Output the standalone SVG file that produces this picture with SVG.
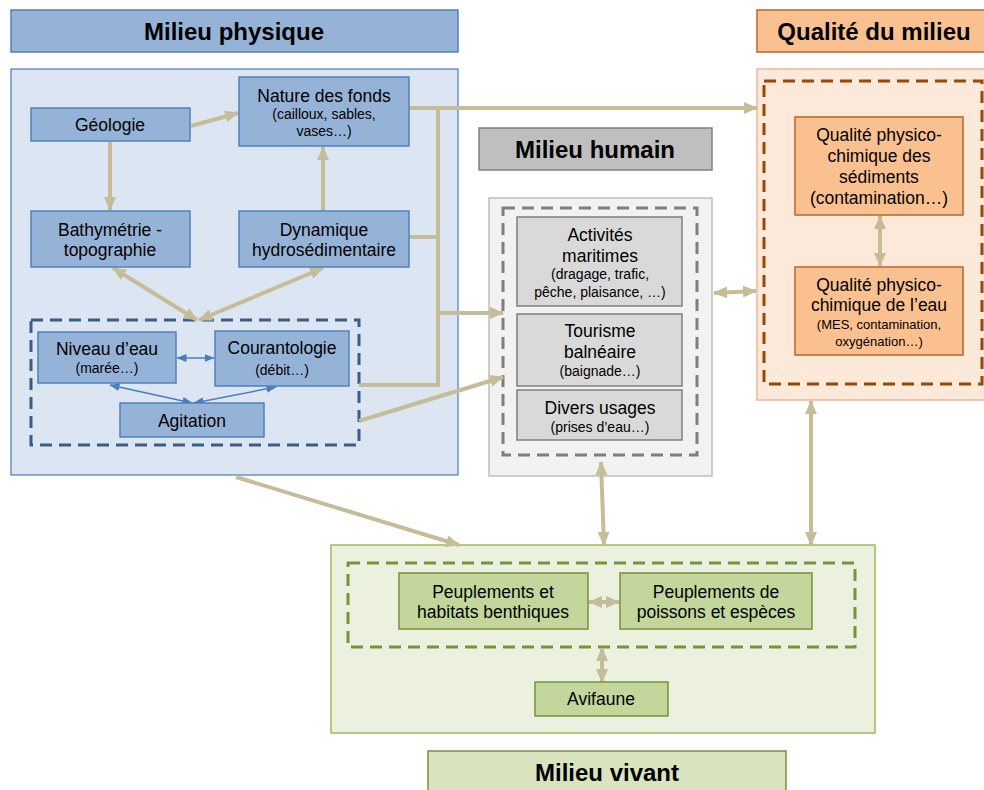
<svg xmlns="http://www.w3.org/2000/svg" width="984" height="790" viewBox="0 0 984 790">
<style>
text{font-family:"Liberation Sans",Arial,sans-serif;fill:#000;text-anchor:middle;dominant-baseline:central}
.t{font-size:24px;font-weight:bold}
.n{font-size:17.5px}
.s{font-size:14px}
.s2{font-size:13px}
.conn{fill:none;stroke:#c4bd97;stroke-width:4}
.bl{fill:none;stroke:#4a7ebb;stroke-width:1.5}
.bnode{fill:#95b3d7;stroke:#4f81bd;stroke-width:1.5}
.gnode{fill:#d9d9d9;stroke:#7f7f7f;stroke-width:1.5}
.onode{fill:#fac090;stroke:#b7672a;stroke-width:1.5}
.vnode{fill:#c3d69b;stroke:#77933c;stroke-width:1.5}
</style>
<defs>
<marker id="ah" markerUnits="userSpaceOnUse" markerWidth="14" markerHeight="14" viewBox="0 0 14 14" refX="13" refY="7" orient="auto-start-reverse">
<path d="M0,1 L14,7 L0,13 Z" fill="#c4bd97"/>
</marker>
<marker id="bh" markerUnits="userSpaceOnUse" markerWidth="10" markerHeight="10" viewBox="0 0 10 10" refX="9.5" refY="5" orient="auto-start-reverse">
<path d="M0,1 L10,5 L0,9 Z" fill="#4a7ebb"/>
</marker>
</defs>

<!-- panels -->
<g id="physique-panel">
<rect x="11" y="10" width="447" height="42" fill="#95b3d7" stroke="#4f81bd" stroke-width="1.5"/>
<text class="t" x="234" y="31">Milieu physique</text>
<rect x="11" y="69" width="447" height="406" fill="#dce6f2" stroke="#4a7ebb" stroke-width="1.2"/>
<rect x="31" y="320" width="328" height="125" fill="none" stroke="#385d8a" stroke-width="3" stroke-dasharray="12,7"/>
</g>
<g id="humain-panel">
<rect x="479" y="128" width="233" height="42" fill="#bfbfbf" stroke="#7f7f7f" stroke-width="1.5"/>
<text class="t" x="595" y="149">Milieu humain</text>
<rect x="489" y="198" width="223" height="278" fill="#f2f2f2" stroke="#bfbfbf" stroke-width="1.5"/>
<rect x="503" y="208" width="194" height="247" fill="none" stroke="#7f7f7f" stroke-width="3" stroke-dasharray="12,7"/>
</g>
<g id="qualite-panel">
<rect x="757" y="10" width="230" height="42" fill="#fac090" stroke="#b7672a" stroke-width="1.5"/>
<text class="t" x="874" y="31">Qualité du milieu</text>
<rect x="757" y="69" width="230" height="331" fill="#fde9d9" stroke="#e6b9a0" stroke-width="1.5"/>
<rect x="764" y="81" width="218" height="303" fill="none" stroke="#984807" stroke-width="3" stroke-dasharray="12,7"/>
</g>
<g id="vivant-panel">
<rect x="331" y="545" width="544" height="188" fill="#ebf1de" stroke="#9bbb59" stroke-width="1.5"/>
<rect x="348" y="563" width="507" height="84" fill="none" stroke="#77933c" stroke-width="3" stroke-dasharray="12,7"/>
<rect x="428" y="751" width="358" height="45" fill="#d7e4bd" stroke="#77933c" stroke-width="1.5"/>
<text class="t" x="607" y="772">Milieu vivant</text>
</g>

<!-- connectors -->
<g id="connectors">
<line class="conn" x1="191" y1="126" x2="238" y2="113" marker-end="url(#ah)"/>
<line class="conn" x1="110" y1="142" x2="110" y2="210" marker-end="url(#ah)"/>
<line class="conn" x1="323" y1="211" x2="323" y2="147" marker-end="url(#ah)"/>
<line class="conn" x1="113" y1="268" x2="197" y2="320" marker-start="url(#ah)" marker-end="url(#ah)"/>
<line class="conn" x1="323" y1="268" x2="199" y2="320" marker-start="url(#ah)" marker-end="url(#ah)"/>
<line class="conn" x1="409" y1="108" x2="757" y2="108" marker-end="url(#ah)"/>
<polyline class="conn" points="438,108 438,385 359,385"/>
<line class="conn" x1="409" y1="237" x2="438" y2="237"/>
<line class="conn" x1="438" y1="313" x2="503" y2="313" marker-end="url(#ah)"/>
<line class="conn" x1="359" y1="421" x2="503" y2="377" marker-end="url(#ah)"/>
<line class="conn" x1="714" y1="293" x2="756" y2="291" marker-start="url(#ah)" marker-end="url(#ah)"/>
<line class="conn" x1="236" y1="477" x2="459" y2="545" marker-end="url(#ah)"/>
<line class="conn" x1="601" y1="462" x2="604" y2="545" marker-start="url(#ah)" marker-end="url(#ah)"/>
<line class="conn" x1="811" y1="401" x2="811" y2="545" marker-start="url(#ah)" marker-end="url(#ah)"/>
<line class="conn" x1="880" y1="216" x2="880" y2="266" marker-start="url(#ah)" marker-end="url(#ah)"/>
<line class="conn" x1="589" y1="602" x2="619" y2="602" marker-start="url(#ah)" marker-end="url(#ah)"/>
<line class="conn" x1="602" y1="648" x2="602" y2="682" marker-start="url(#ah)" marker-end="url(#ah)"/>
<line class="bl" x1="177" y1="358" x2="214" y2="358" marker-start="url(#bh)" marker-end="url(#bh)"/>
<line class="bl" x1="110" y1="385" x2="192" y2="403" marker-start="url(#bh)" marker-end="url(#bh)"/>
<line class="bl" x1="276" y1="387" x2="194" y2="403" marker-start="url(#bh)" marker-end="url(#bh)"/>
</g>

<!-- nodes -->
<g id="geologie"><rect class="bnode" x="31" y="108" width="159" height="33"/><text class="n" x="110" y="125">Géologie</text></g>
<g id="nature-fonds"><rect class="bnode" x="239" y="77" width="170" height="69"/>
<text class="n" x="324" y="96">Nature des fonds</text>
<text class="s" x="324" y="114">(cailloux, sables,</text>
<text class="s" x="324" y="131">vases…)</text></g>
<g id="bathymetrie"><rect class="bnode" x="31" y="211" width="159" height="56"/>
<text class="n" x="110" y="230">Bathymétrie -</text><text class="n" x="110" y="250">topographie</text></g>
<g id="dynamique"><rect class="bnode" x="239" y="211" width="170" height="56"/>
<text class="n" x="324" y="230">Dynamique</text><text class="n" x="324" y="250">hydrosédimentaire</text></g>
<g id="niveau-eau"><rect class="bnode" x="38" y="332" width="138" height="51"/>
<text class="n" x="107" y="349">Niveau d’eau</text><text class="s" x="107" y="368">(marée…)</text></g>
<g id="courantologie"><rect class="bnode" x="215" y="331" width="134" height="55"/>
<text class="n" x="282" y="348">Courantologie</text><text class="s" x="282" y="370">(débit…)</text></g>
<g id="agitation"><rect class="bnode" x="120" y="403" width="144" height="34"/>
<text class="n" x="192" y="421">Agitation</text></g>

<g id="activites"><rect class="gnode" x="517" y="217" width="165" height="89"/>
<text class="n" x="600" y="235">Activités</text><text class="n" x="600" y="256">maritimes</text>
<text class="s" x="600" y="274">(dragage, trafic,</text><text class="s" x="600" y="292">pêche, plaisance, …)</text></g>
<g id="tourisme"><rect class="gnode" x="517" y="314" width="165" height="72"/>
<text class="n" x="600" y="331">Tourisme</text><text class="n" x="600" y="352">balnéaire</text>
<text class="s" x="600" y="371">(baignade…)</text></g>
<g id="divers"><rect class="gnode" x="517" y="390" width="165" height="50"/>
<text class="n" x="600" y="408">Divers usages</text><text class="s" x="600" y="427">(prises d’eau…)</text></g>

<g id="qualite-sediments"><rect class="onode" x="795" y="117" width="168" height="98"/>
<text class="n" x="879" y="135">Qualité physico-</text><text class="n" x="879" y="156">chimique des</text>
<text class="n" x="879" y="177">sédiments</text><text class="n" x="879" y="198">(contamination…)</text></g>
<g id="qualite-eau"><rect class="onode" x="795" y="267" width="168" height="88"/>
<text class="n" x="879" y="285">Qualité physico-</text><text class="n" x="879" y="305">chimique de l’eau</text>
<text class="s2" x="879" y="324">(MES, contamination,</text><text class="s2" x="879" y="341">oxygénation…)</text></g>

<g id="benthiques"><rect class="vnode" x="399" y="573" width="189" height="56"/>
<text class="n" x="493" y="592">Peuplements et</text><text class="n" x="493" y="612">habitats benthiques</text></g>
<g id="poissons"><rect class="vnode" x="620" y="573" width="192" height="56"/>
<text class="n" x="716" y="592">Peuplements de</text><text class="n" x="716" y="612">poissons et espèces</text></g>
<g id="avifaune"><rect class="vnode" x="535" y="682" width="133" height="34"/>
<text class="n" x="601" y="699">Avifaune</text></g>
</svg>
